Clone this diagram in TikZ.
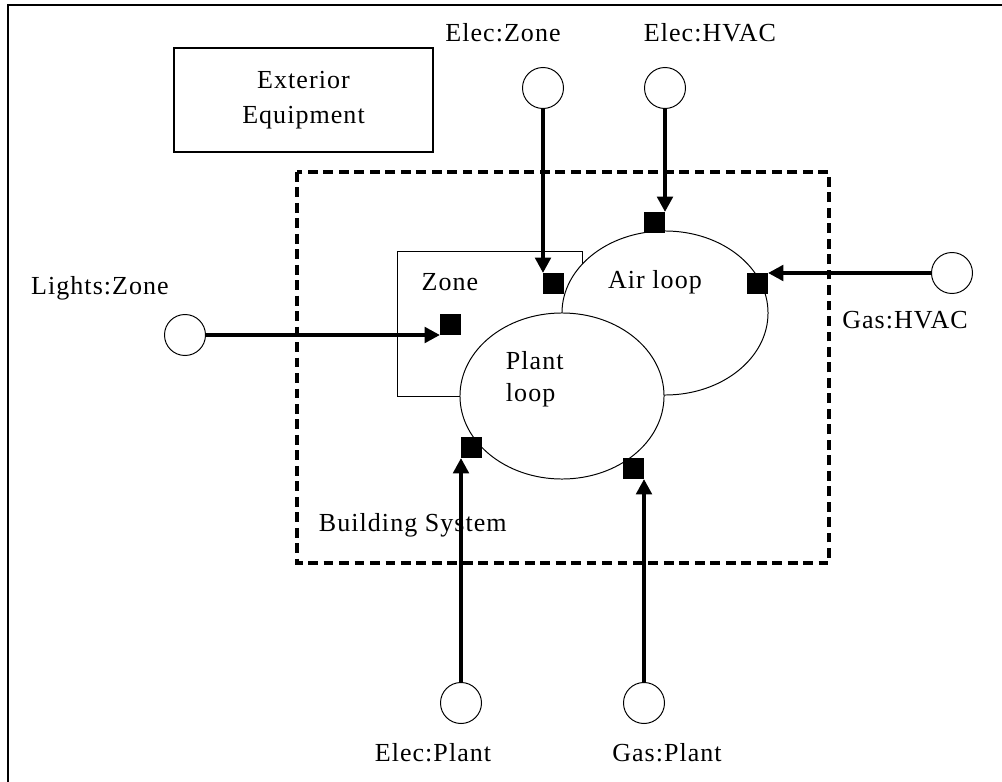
\documentclass[tikz,border=0pt]{standalone}
\usepackage{fontspec}
\setmainfont[LetterSpace=4]{Liberation Serif}
\usetikzlibrary{arrows.meta,shapes.geometric}

\begin{document}
\begin{tikzpicture}[x=0.025cm,y=-0.025cm,
    every node/.style={font=\fontsize{18.5}{25}\selectfont},
    meter/.style={circle, draw, line width=0.7pt, minimum size=1.025cm, inner sep=0pt, outer sep=0pt, fill=white},
    port/.style={rectangle, fill=black, minimum size=0.525cm, inner sep=0pt, outer sep=0pt},
    loopshape/.style={ellipse, draw, line width=0.7pt, fill=white, inner sep=0pt, outer sep=0pt},
    flow/.style={line width=3.4pt, -{Triangle[length=11pt,width=11pt]}}]
    \useasboundingbox (0,0) rectangle (1002,782);
    \draw[line width=1.5pt] (8,782) -- (8,5) -- (1002,5);

    \node[draw, line width=1pt, minimum width=6.475cm, minimum height=2.6cm, align=center] (extEq) at (303.5,100) {Exterior\\Equipment};
    \draw[line width=2.2pt, dash pattern=on 7pt off 4pt] (297,172) rectangle (829,563);
    \node[anchor=west] (bldgSys) at (314,525) {Building System};

    \node[draw, line width=0.7pt, minimum width=4.6cm, minimum height=3.6cm] (zone) at (490,324) {};
    \node[loopshape, minimum width=5.15cm, minimum height=4.1cm] (airLoop) at (665,313) {};
    \node[loopshape, minimum width=5.1cm, minimum height=4.15cm] (plantLoop) at (562,396) {};

    \node (zoneTxt) at (450,282) {Zone};
    \node (airTxt) at (655,282) {Air loop};
    \node[anchor=west, align=left, font=\fontsize{18.5}{23}\selectfont] (plantTxt) at (501,379) {Plant\\loop};

    \node[port, anchor=north west] (ezPort) at (543,273) {};
    \node[port, anchor=north east] (ehPort) at (665,212) {};
    \node[port, anchor=south west] (lzPort) at (440,335) {};
    \node[port, anchor=north east] (ghPort) at (768,273) {};
    \node[port, anchor=south west] (epPort) at (461,458) {};
    \node[port, anchor=south east] (gpPort) at (644,479) {};

    \node[meter] (ez) at (543,88) {};
    \node[meter] (eh) at (665,88) {};
    \node[meter] (lz) at (185,335) {};
    \node[meter] (gh) at (952,273) {};
    \node[meter] (ep) at (461,703) {};
    \node[meter] (gp) at (644,703) {};

    \node (ezTxt) at (503,33) {Elec:Zone};
    \node (ehTxt) at (710,33) {Elec:HVAC};
    \node (lzTxt) at (100,288) {Lights:Zone};
    \node (ghTxt) at (905,320) {Gas:HVAC};
    \node (epTxt) at (433,753) {Elec:Plant};
    \node (gpTxt) at (667,753) {Gas:Plant};

    \draw[flow] (ez) -- (ezPort.north west);
    \draw[flow] (eh) -- (ehPort.north east);
    \draw[flow] (lz) -- (lzPort.south west);
    \draw[flow] (gh) -- (ghPort.north east);
    \draw[flow] (ep) -- (epPort.south west);
    \draw[flow] (gp) -- (gpPort.south east);
\end{tikzpicture}
\end{document}
